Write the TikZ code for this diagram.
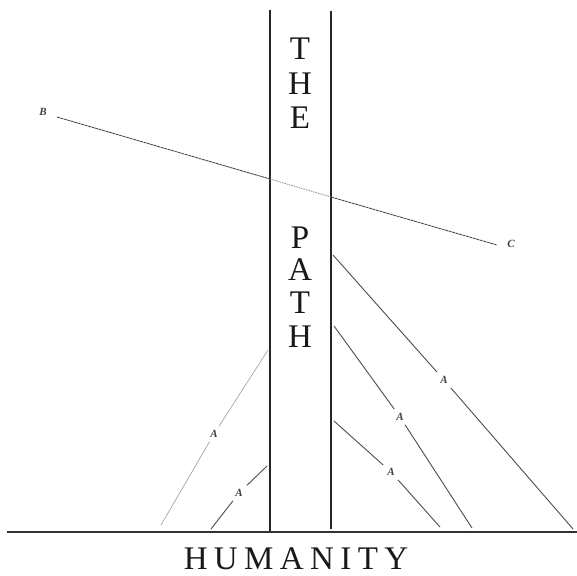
\documentclass[tikz,border=0pt]{standalone}
\usepackage{fontspec}
\setmainfont{Liberation Serif}
\begin{document}
\begin{tikzpicture}[x=1pt,y=-1pt,
  big/.style={font=\fontsize{33}{33}\selectfont, inner sep=0pt, anchor=base, text=black!90},
  lab/.style={font=\itshape\bfseries\fontsize{11}{11}\selectfont, inner sep=4pt, text=black!75},
  wall/.style={line width=1.6pt, black!85},
  ground/.style={line width=2.2pt, black!80},
  ray/.style={line width=0.9pt, black!70},
  faint/.style={line width=0.6pt, black!40},
  cross/.style={line width=0.9pt, black!70, dash pattern=on 3pt off 0.6pt},
  crossin/.style={line width=0.7pt, black!50, dash pattern=on 1.5pt off 1pt}]
\useasboundingbox (0,0) rectangle (577,575);
% path walls
\coordinate (lt) at (270,10);
\coordinate (lb) at (270,532);
\coordinate (rt) at (331,11);
\coordinate (rb) at (331,529);
\coordinate (g1) at (7,532);
\coordinate (g2) at (577,532);
\draw[wall] (lt) -- (lb);
\draw[wall] (rt) -- (rb);
\draw[ground] (g1) -- (g2);
% letters
\node[big] (t1) at (300,60) {T};
\node[big] (t2) at (300,95) {H};
\node[big] (t3) at (300,128) {E};
\node[big] (p1) at (300,248) {P};
\node[big] (p2) at (300,280) {A};
\node[big] (p3) at (300,313) {T};
\node[big] (p4) at (300,347) {H};
\node[big] (hum) at (296,569) {H\hspace{6.4pt}U\hspace{6.4pt}M\hspace{6.4pt}A\hspace{6.4pt}N\hspace{6.4pt}I\hspace{6.4pt}T\hspace{6.4pt}Y};
% B-C line
\node[lab, inner sep=1pt] (B) at (43,112) {B};
\node[lab, inner sep=1pt] (C) at (511,244) {C};
\coordinate (b1) at (57,117);
\coordinate (x1) at (270,179);
\coordinate (x2) at (331,197);
\coordinate (c1) at (497,245);
\draw[cross] (b1) -- (x1);
\draw[crossin] (x1) -- (x2);
\draw[cross] (x2) -- (c1);
% left rays
\coordinate (la1) at (268,350);
\coordinate (la2) at (161,525);
\node[lab] (A1) at (214,434) {A};
\draw[faint] (la1) -- (A1) -- (la2);
\coordinate (lb1) at (267,466);
\coordinate (lb2) at (211,529);
\node[lab] (A2) at (239,493) {A};
\draw[ray] (lb1) -- (A2) -- (lb2);
% right rays
\coordinate (ra1) at (333,255);
\coordinate (ra2) at (573,529);
\node[lab] (A3) at (444,380) {A};
\draw[ray] (ra1) -- (A3) -- (ra2);
\coordinate (rb1) at (334,326);
\coordinate (rb2) at (472,528);
\node[lab] (A4) at (400,417) {A};
\draw[ray] (rb1) -- (A4) -- (rb2);
\coordinate (rc1) at (334,421);
\coordinate (rc2) at (440,527);
\node[lab] (A5) at (391,472) {A};
\draw[ray] (rc1) -- (A5) -- (rc2);
\end{tikzpicture}
\end{document}
